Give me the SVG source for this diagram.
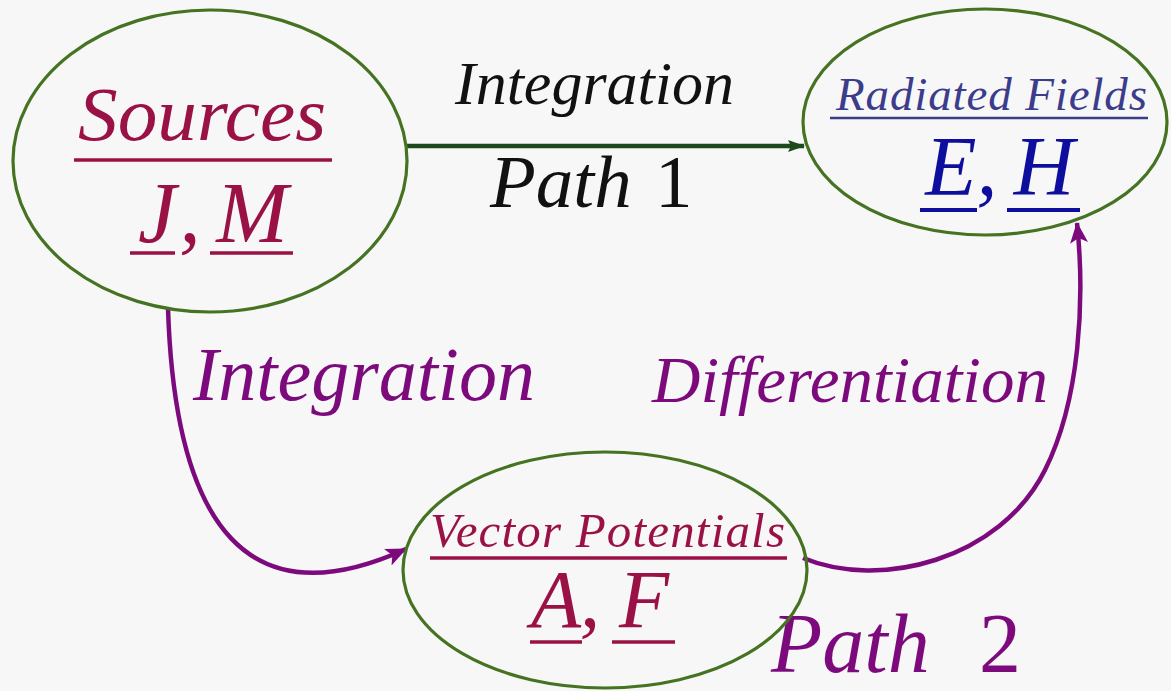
<svg xmlns="http://www.w3.org/2000/svg" width="1171" height="691" viewBox="0 0 1171 691">
<defs>
<style>
.node{fill:none;stroke:#457321;stroke-width:3.2}
.t{font-family:"Liberation Serif","Times New Roman",serif;font-style:italic}
.up{font-style:normal}
.mar{fill:#9a1245}
.blu{fill:#0d0d9e}
.slate{fill:#3c3c8c}
.pur{fill:#7c0a7c}
.ulm{stroke:#9a1245;stroke-width:3.5}
.ulb{stroke:#0d0d9e;stroke-width:4}
.uls{stroke:#3c3c8c;stroke-width:2.6}
.conn{fill:none;stroke-width:4.5}
</style>
<marker id="ahG" markerUnits="userSpaceOnUse" markerWidth="18" markerHeight="14" refX="16" refY="7" orient="auto">
<path d="M0,1 L17,7 L0,13 L3,7 z" fill="#1d4a1d"/>
</marker>
<marker id="ahP" markerUnits="userSpaceOnUse" markerWidth="22" markerHeight="20" refX="20" refY="10" orient="auto">
<path d="M0,1 L21,10 L0,19 L5,10 z" fill="#7c0a7c"/>
</marker>
</defs>
<rect width="1171" height="691" fill="#f7f7f7"/>

<g id="connectors">
<line x1="407" y1="146" x2="804" y2="146" class="conn" stroke="#1d4a1d" stroke-width="5" marker-end="url(#ahG)"/>
<path d="M168,308 C175,530 250,620 406,549" class="conn" stroke="#7c0a7c" marker-end="url(#ahP)"/>
<path d="M803,558 C880,590 1000,560 1045,470 C1080,400 1085,300 1077,223" class="conn" stroke="#7c0a7c" marker-end="url(#ahP)"/>
<text x="455" y="104" class="t" font-size="62" fill="#111">Integration</text>
<text x="490" y="207" class="t" font-size="75" fill="#111">Path<tspan x="655" class="up">1</tspan></text>
<text x="193" y="400" class="t pur" font-size="76">Integration</text>
<text x="652" y="402" class="t pur" font-size="65" textLength="396" lengthAdjust="spacingAndGlyphs">Differentiation</text>
<text x="771" y="672" class="t pur" font-size="84">Path<tspan x="979" class="up">2</tspan></text>
</g>

<g id="node-sources">
<ellipse cx="210" cy="161" rx="197" ry="151" class="node"/>
<text x="78" y="140" class="t mar" font-size="76" textLength="248" lengthAdjust="spacingAndGlyphs">Sources</text>
<line x1="74" y1="160" x2="332" y2="160" class="ulm"/>
<text y="242" class="t mar" font-size="86" text-anchor="middle"><tspan x="157">J</tspan><tspan x="190">,</tspan><tspan x="252">M</tspan></text>
<line x1="130" y1="253" x2="175" y2="253" class="ulm"/>
<line x1="210" y1="253" x2="293" y2="253" class="ulm"/>
</g>

<g id="node-fields">
<ellipse cx="985" cy="122" rx="182" ry="113" class="node"/>
<text x="836" y="110" class="t slate" font-size="47" textLength="311" lengthAdjust="spacing">Radiated Fields</text>
<line x1="830" y1="118" x2="1148" y2="118" class="uls"/>
<text y="195" class="t blu" font-size="84" text-anchor="middle"><tspan x="951">E</tspan><tspan x="987">,</tspan><tspan x="1044">H</tspan></text>
<line x1="920" y1="210" x2="977" y2="210" class="ulb"/>
<line x1="1007" y1="210" x2="1080" y2="210" class="ulb"/>
</g>

<g id="node-potentials">
<ellipse cx="605" cy="570" rx="202" ry="118" class="node"/>
<text x="430" y="547" class="t mar" font-size="49" textLength="355" lengthAdjust="spacing">Vector Potentials</text>
<line x1="430" y1="558" x2="787" y2="558" class="ulm" stroke-width="3"/>
<text y="627" class="t mar" font-size="82" text-anchor="middle"><tspan x="556">A</tspan><tspan x="590">,</tspan><tspan x="644">F</tspan></text>
<line x1="530" y1="642" x2="582" y2="642" class="ulm" stroke-width="4"/>
<line x1="612" y1="642" x2="675" y2="642" class="ulm" stroke-width="4"/>
</g>
</svg>
